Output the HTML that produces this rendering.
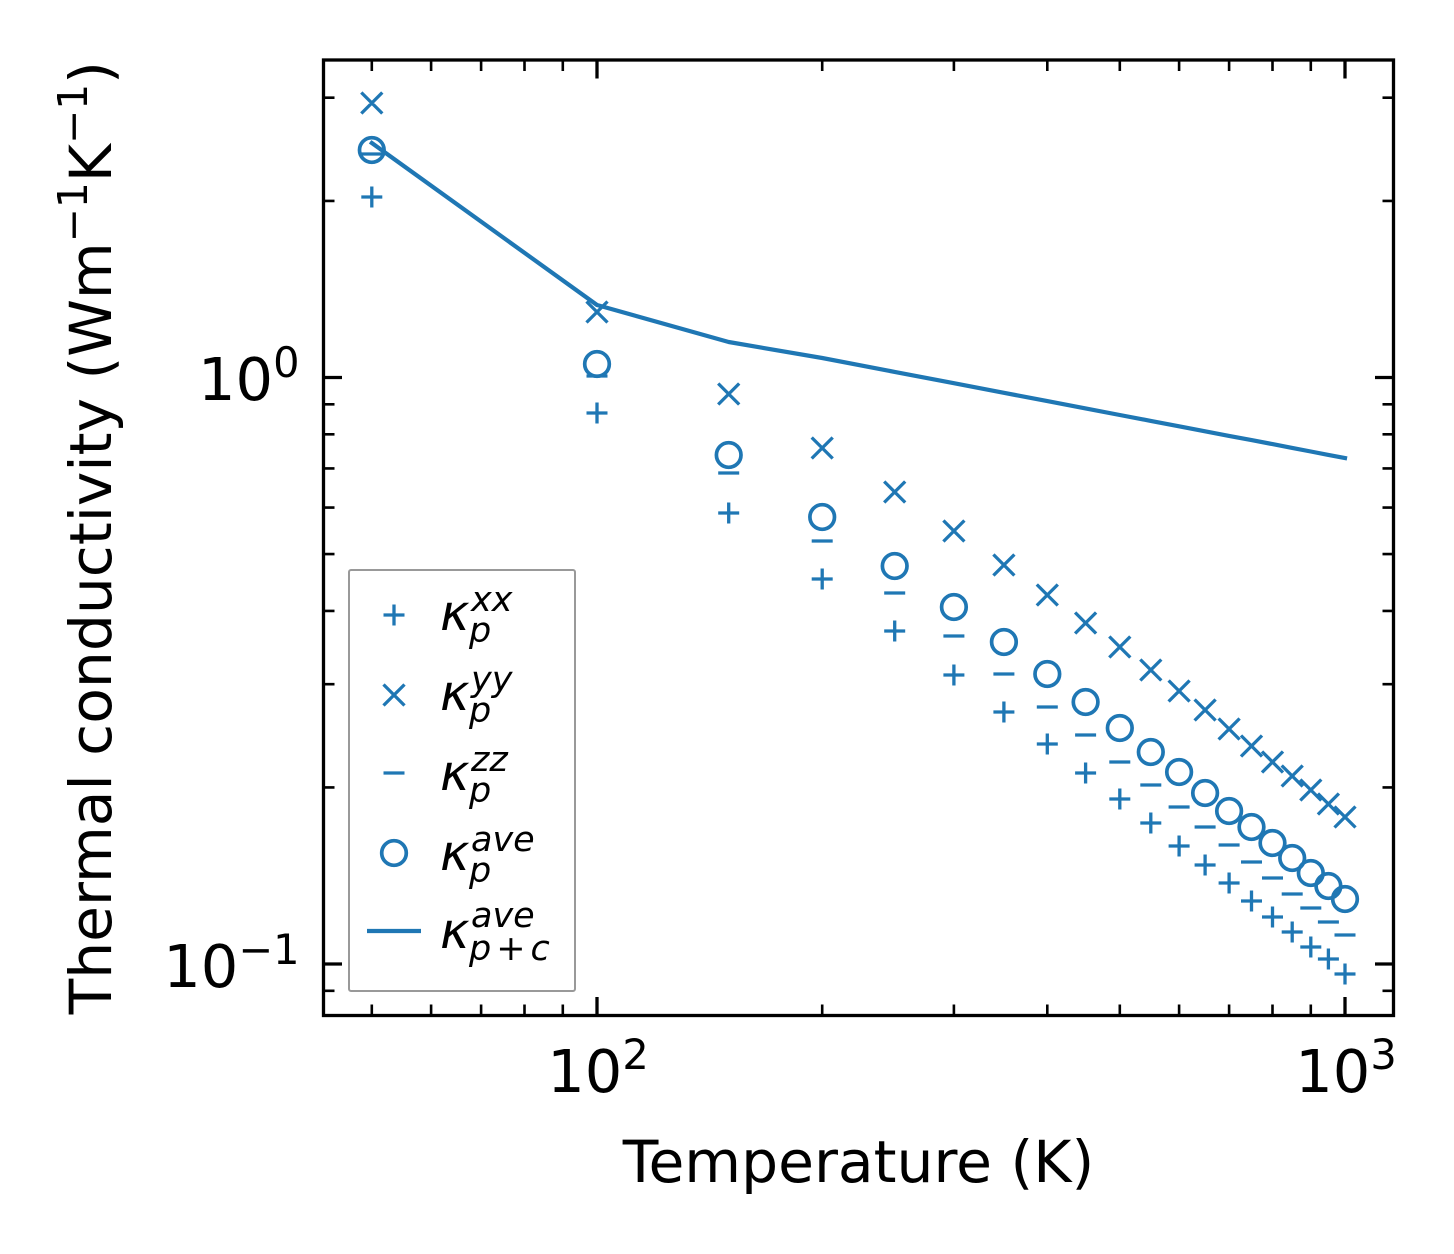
<!DOCTYPE html>
<html>
<head>
<meta charset="utf-8">
<style>
html,body{margin:0;padding:0;background:#ffffff;}
svg{display:block;}
</style>
</head>
<body>
<svg width="1454" height="1254" viewBox="0 0 1454 1254" xmlns="http://www.w3.org/2000/svg" font-family="'DejaVu Sans', 'Liberation Sans', sans-serif">
<rect x="0" y="0" width="1454" height="1254" fill="#ffffff"/>

<!-- data: kappa_p^xx (+) -->
<path fill="none" stroke="#1f77b4" stroke-width="3.3" d="
M361.3 197h21m-10.5-10.5v21
M586.5 413h21m-10.5-10.5v21
M718.2 513h21m-10.5-10.5v21
M811.7 579h21m-10.5-10.5v21
M884.2 631h21m-10.5-10.5v21
M943.4 675h21m-10.5-10.5v21
M993.4 712h21m-10.5-10.5v21
M1036.8 744h21m-10.5-10.5v21
M1075.1 773h21m-10.5-10.5v21
M1109.3 799h21m-10.5-10.5v21
M1140.3 823h21m-10.5-10.5v21
M1168.6 846h21m-10.5-10.5v21
M1194.6 865h21m-10.5-10.5v21
M1218.6 883h21m-10.5-10.5v21
M1241 901h21m-10.5-10.5v21
M1262 917h21m-10.5-10.5v21
M1281.7 932h21m-10.5-10.5v21
M1300.3 947h21m-10.5-10.5v21
M1317.9 959h21m-10.5-10.5v21
M1334.5 974h21m-10.5-10.5v21"/>

<!-- data: kappa_p^yy (x) -->
<path fill="none" stroke="#1f77b4" stroke-width="3.3" d="
M361.3 92.5l21 21m-21 0l21-21
M586.5 301.5l21 21m-21 0l21-21
M718.2 383.5l21 21m-21 0l21-21
M811.7 437.5l21 21m-21 0l21-21
M884.2 481.5l21 21m-21 0l21-21
M943.4 520.5l21 21m-21 0l21-21
M993.4 554.5l21 21m-21 0l21-21
M1036.8 584.5l21 21m-21 0l21-21
M1075.1 612.5l21 21m-21 0l21-21
M1109.3 636.5l21 21m-21 0l21-21
M1140.3 659.5l21 21m-21 0l21-21
M1168.6 680.5l21 21m-21 0l21-21
M1194.6 699.5l21 21m-21 0l21-21
M1218.6 718.5l21 21m-21 0l21-21
M1241 735.5l21 21m-21 0l21-21
M1262 751.5l21 21m-21 0l21-21
M1281.7 765.5l21 21m-21 0l21-21
M1300.3 779.5l21 21m-21 0l21-21
M1317.9 793.5l21 21m-21 0l21-21
M1334.5 806.5l21 21m-21 0l21-21"/>

<!-- data: kappa_p^zz (-) -->
<path fill="none" stroke="#1f77b4" stroke-width="3.3" d="
M361.3 154h21
M586.5 376h21
M718.2 473h21
M811.7 541h21
M884.2 593h21
M943.4 636h21
M993.4 674h21
M1036.8 707h21
M1075.1 735h21
M1109.3 762h21
M1140.3 785h21
M1168.6 807h21
M1194.6 827h21
M1218.6 845h21
M1241 862h21
M1262 878h21
M1281.7 894h21
M1300.3 908h21
M1317.9 922h21
M1334.5 935h21"/>

<!-- data: kappa_p^ave (o) -->
<g fill="none" stroke="#1f77b4" stroke-width="3.7">
<circle cx="371.8" cy="150" r="12.3"/>
<circle cx="597" cy="364" r="12.3"/>
<circle cx="728.7" cy="455" r="12.3"/>
<circle cx="822.2" cy="517" r="12.3"/>
<circle cx="894.7" cy="566" r="12.3"/>
<circle cx="953.9" cy="607" r="12.3"/>
<circle cx="1003.9" cy="642" r="12.3"/>
<circle cx="1047.3" cy="674" r="12.3"/>
<circle cx="1085.6" cy="702" r="12.3"/>
<circle cx="1119.8" cy="728" r="12.3"/>
<circle cx="1150.8" cy="752" r="12.3"/>
<circle cx="1179.1" cy="772" r="12.3"/>
<circle cx="1205.1" cy="793" r="12.3"/>
<circle cx="1229.1" cy="811" r="12.3"/>
<circle cx="1251.5" cy="827" r="12.3"/>
<circle cx="1272.5" cy="843" r="12.3"/>
<circle cx="1292.2" cy="858" r="12.3"/>
<circle cx="1310.8" cy="873" r="12.3"/>
<circle cx="1328.4" cy="886" r="12.3"/>
<circle cx="1345" cy="899" r="12.3"/>
</g>

<!-- data: kappa_{p+c}^ave (line) -->
<polyline fill="none" stroke="#1f77b4" stroke-width="4.2" stroke-linejoin="round" stroke-linecap="square"
points="371.8,143 597,305 728.7,342 822.2,358 894.7,371.9 953.9,383.2 1003.9,392.8 1047.3,401.1 1085.6,408.4 1119.8,415 1150.8,420.9 1179.1,426.3 1205.1,431.3 1229.1,435.9 1251.5,440.1 1272.5,444.1 1292.2,447.9 1310.8,451.5 1328.4,454.9 1345,458"/>

<!-- ticks -->
<path fill="none" stroke="#000" stroke-width="3.3" d="
M323.5 377.5h18.5 M323.5 964h18.5
M1393.5 377.5h-18.5 M1393.5 964h-18.5
M597 1015.5v-18.5 M1345 1015.5v-18.5
M597 60v18.5 M1345 60v18.5"/>
<path fill="none" stroke="#000" stroke-width="2.6" d="
M323.5 990.8h11 M323.5 787.4h11 M323.5 684.2h11 M323.5 610.9h11 M323.5 554.1h11 M323.5 507.6h11 M323.5 468.4h11 M323.5 434.3h11 M323.5 404.3h11 M323.5 200.9h11 M323.5 97.7h11
M1393.5 990.8h-11 M1393.5 787.4h-11 M1393.5 684.2h-11 M1393.5 610.9h-11 M1393.5 554.1h-11 M1393.5 507.6h-11 M1393.5 468.4h-11 M1393.5 434.3h-11 M1393.5 404.3h-11 M1393.5 200.9h-11 M1393.5 97.7h-11
M371.8 1015.5v-11 M431.1 1015.5v-11 M481.1 1015.5v-11 M524.5 1015.5v-11 M562.8 1015.5v-11 M822.2 1015.5v-11 M953.9 1015.5v-11 M1047.3 1015.5v-11 M1119.8 1015.5v-11 M1179.1 1015.5v-11 M1229.1 1015.5v-11 M1272.5 1015.5v-11 M1310.8 1015.5v-11
M371.8 60v11 M431.1 60v11 M481.1 60v11 M524.5 60v11 M562.8 60v11 M822.2 60v11 M953.9 60v11 M1047.3 60v11 M1119.8 60v11 M1179.1 60v11 M1229.1 60v11 M1272.5 60v11 M1310.8 60v11"/>

<!-- spines -->
<rect x="323.5" y="60" width="1070" height="955.5" fill="none" stroke="#000" stroke-width="3.3"/>

<!-- tick labels -->
<g fill="#000" font-size="59">
<text x="299.5" y="400" text-anchor="end">10<tspan dy="-23" font-size="41.5">0</tspan></text>
<text x="299.5" y="987" text-anchor="end">10<tspan dy="-23" font-size="41.5">−1</tspan></text>
<text x="598" y="1092" text-anchor="middle">10<tspan dy="-23" font-size="41.5">2</tspan></text>
<text x="1346" y="1092" text-anchor="middle">10<tspan dy="-23" font-size="41.5">3</tspan></text>
</g>

<!-- axis labels -->
<text x="858.5" y="1182" text-anchor="middle" font-size="58.3" fill="#000">Temperature (K)</text>
<text transform="translate(111,537.75) rotate(-90)" text-anchor="middle" font-size="58.3" fill="#000">Thermal conductivity (Wm<tspan dy="-24" font-size="40.8">−1</tspan><tspan dy="24">K</tspan><tspan dy="-24" font-size="40.8">−1</tspan><tspan dy="24">)</tspan></text>

<!-- legend -->
<rect x="349" y="570" width="226" height="421" rx="2" fill="#ffffff" stroke="#999999" stroke-width="2"/>
<path fill="none" stroke="#1f77b4" stroke-width="3.3" d="
M383.5 615h21m-10.5-10.5v21
M383.5 684.5l21 21m-21 0l21-21
M383.5 773h21"/>
<circle cx="394" cy="853" r="12.3" fill="none" stroke="#1f77b4" stroke-width="3.7"/>
<path d="M367 931H421" stroke="#1f77b4" stroke-width="4.2" fill="none"/>

<g fill="#000" font-style="italic">
<text x="440" y="630" font-size="50">κ</text>
<text x="471" y="611" font-size="35">xx</text>
<text x="469" y="642" font-size="35">p</text>

<text x="440" y="710" font-size="50">κ</text>
<text x="471" y="691" font-size="35">yy</text>
<text x="469" y="722" font-size="35">p</text>

<text x="440" y="790" font-size="50">κ</text>
<text x="471" y="771" font-size="35">zz</text>
<text x="469" y="802" font-size="35">p</text>

<text x="440" y="870" font-size="50">κ</text>
<text x="471" y="851" font-size="35">ave</text>
<text x="469" y="882" font-size="35">p</text>

<text x="440" y="948" font-size="50">κ</text>
<text x="471" y="927" font-size="35">ave</text>
<text x="469" y="960" font-size="35">p<tspan dx="5" font-style="normal">+</tspan><tspan dx="5">c</tspan></text>
</g>
</svg>
</body>
</html>
